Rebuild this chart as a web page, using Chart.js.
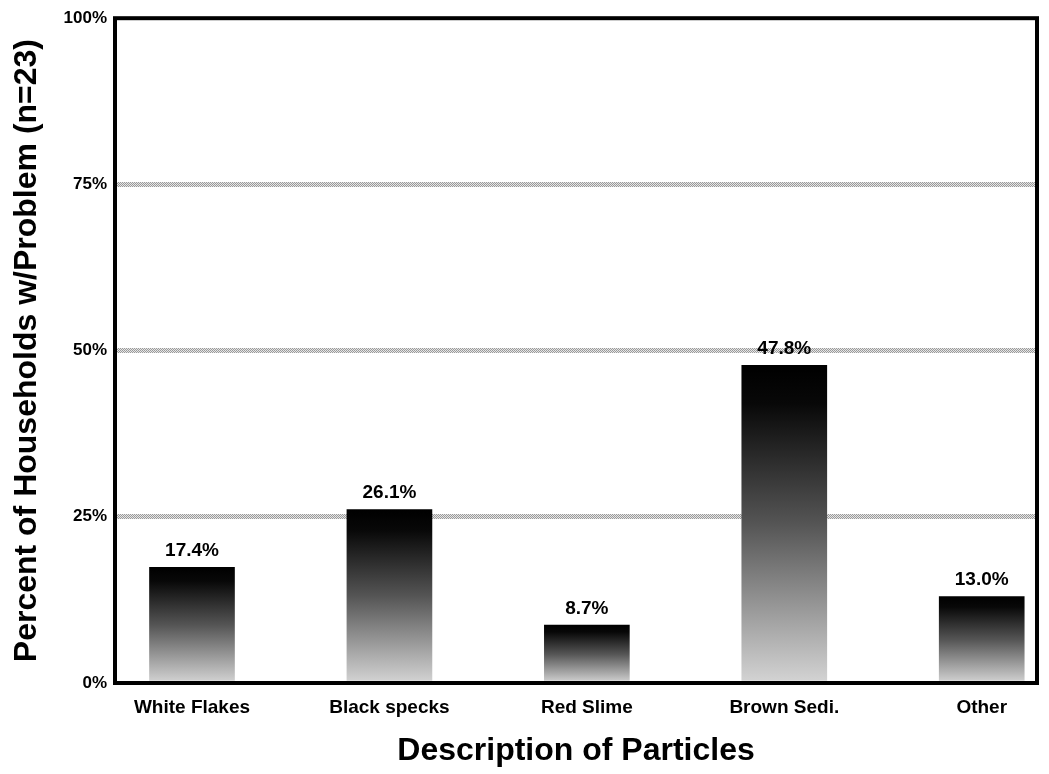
<!DOCTYPE html>
<html>
<head>
<meta charset="utf-8">
<script src="https://cdn.jsdelivr.net/npm/chart.js@4/dist/chart.umd.min.js"></script>
<style>
  html, body { margin: 0; padding: 0; background: #fff; }
</style>
</head>
<body>
<canvas id="particles-chart" width="1049" height="774"></canvas>
<script>
const categories = ['White Flakes', 'Black specks', 'Red Slime', 'Brown Sedi.', 'Other'];
const percents = [17.4, 26.1, 8.7, 47.8, 13.0];
const yTicks = [0, 25, 50, 75, 100];

const FONT = "'Liberation Sans', Arial, sans-serif";

// bar fill: black on top fading to light grey at the base
function barFill(ctx) {
	const chart = ctx.chart;
	if (!chart.chartArea || !ctx.parsed) return '#555';
	const y = chart.scales.y;
	const top = y.getPixelForValue(ctx.parsed.y);
	const base = y.getPixelForValue(0);
	const g = chart.ctx.createLinearGradient(0, top, 0, base);
	g.addColorStop(0, '#000');
	g.addColorStop(0.12, '#080808');
	g.addColorStop(0.5, '#555');
	g.addColorStop(1, '#d4d4d4');
	return g;
}

const ctx = document.getElementById('particles-chart').getContext('2d');

// dotted grey look for the grid bands
const dotCanvas = document.createElement('canvas');
dotCanvas.width = 2;
dotCanvas.height = 2;
const dctx = dotCanvas.getContext('2d');
dctx.fillStyle = '#e6e6e6';
dctx.fillRect(0, 0, 2, 2);
dctx.fillStyle = '#9a9a9a';
dctx.fillRect(0, 0, 1, 1);
dctx.fillRect(1, 1, 1, 1);
const gridDots = ctx.createPattern(dotCanvas, 'repeat');

// thick black frame round the plot
const framePlugin = {
	id: 'frame',
	afterDatasetsDraw(chart) {
		const {ctx, chartArea: a} = chart;
		ctx.save();
		ctx.strokeStyle = '#000';
		ctx.lineWidth = 4;
		ctx.strokeRect(a.left, a.top, a.right - a.left, a.bottom - a.top);
		ctx.restore();
	}
};

// percent labels over the bars
const valueLabels = {
	id: 'valueLabels',
	afterDatasetsDraw(chart) {
		const {ctx} = chart;
		const meta = chart.getDatasetMeta(0);
		ctx.save();
		ctx.font = 'bold 19px ' + FONT;
		ctx.fillStyle = '#000';
		ctx.textAlign = 'center';
		ctx.textBaseline = 'bottom';
		meta.data.forEach((bar, i) => {
			ctx.fillText(percents[i].toFixed(1) + '%', bar.x, bar.y - 7);
		});
		ctx.restore();
	}
};

const chart = new Chart(ctx, {
	type: 'bar',
	data: {
		datasets: [{
			data: categories.map((c, i) => ({x: i, y: percents[i]})),
			backgroundColor: barFill,
			borderWidth: 0,
			barThickness: 85
		}]
	},
	options: {
		responsive: false,
		animation: false,
		layout: { padding: { top: 14, right: 12, left: 0, bottom: 0 } },
		plugins: { legend: { display: false }, tooltip: { enabled: false } },
		scales: {
			x: {
				type: 'linear',
				offset: false,
				min: -0.39,
				max: 4.28,
				afterBuildTicks: scale => { scale.ticks = categories.map((c, i) => ({value: i})); },
				afterFit: scale => { scale.height = 91; },
				grid: { display: false, drawTicks: false, offset: false },
				border: { display: false },
				ticks: {
					padding: 13,
					color: '#000',
					font: { family: FONT, size: 19, weight: 'bold' },
					callback: v => categories[v]
				},
				title: {
					display: true,
					text: 'Description of Particles',
					color: '#000',
					font: { family: FONT, size: 32, weight: 'bold' },
					padding: { top: 0, bottom: 4 }
				}
			},
			y: {
				min: 0,
				max: 100,
				afterBuildTicks: scale => { scale.ticks = yTicks.map(v => ({value: v})); },
				afterFit: scale => { scale.width = 115; },
				grid: {
					drawTicks: false,
					lineWidth: 5,
					color: c => (c.tick.value === 0 || c.tick.value === 100) ? 'rgba(0,0,0,0)' : gridDots
				},
				border: { display: false },
				ticks: {
					padding: 8,
					color: '#000',
					font: { family: FONT, size: 17, weight: 'bold' },
					callback: v => v + '%'
				},
				title: {
					display: true,
					text: 'Percent of Households w/Problem (n=23)',
					color: '#000',
					font: { family: FONT, size: 32, weight: 'bold' },
					padding: { top: 8, bottom: 0 }
				}
			}
		}
	},
	plugins: [framePlugin, valueLabels]
});
</script>
</body>
</html>
